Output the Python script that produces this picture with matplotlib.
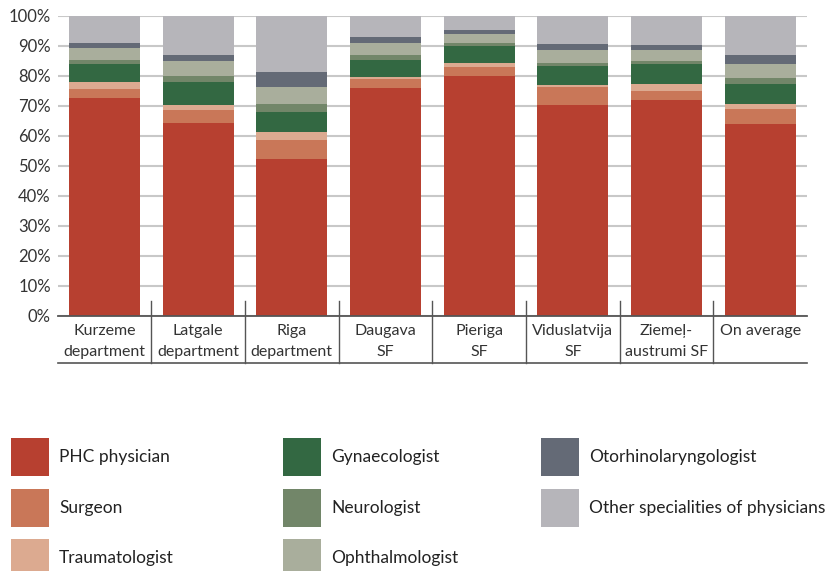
import matplotlib.pyplot as plt
from matplotlib.patches import Rectangle
from matplotlib.transforms import blended_transform_factory
import numpy as np

plt.rcParams["font.family"] = ["Lato", "DejaVu Sans"]

regions = ["Kurzeme\ndepartment", "Latgale\ndepartment", "Riga\ndepartment",
           "Daugava\nSF", "Pieriga\nSF", "Viduslatvija\nSF",
           "Ziemeļ-\naustrumi SF", "On average"]

# shares of visits, % (bottom to top)
phc = [72.7, 64.3, 52.3, 76.0, 80.0, 70.3, 72.0, 64.0]
surgeon = [3.0, 4.4, 6.4, 3.0, 3.0, 6.0, 3.0, 5.0]
traumatologist = [2.3, 1.6, 2.6, 0.7, 1.3, 0.7, 2.3, 1.7]
gynaecologist = [6.0, 7.7, 6.7, 5.6, 5.7, 6.3, 6.7, 6.6]
neurologist = [1.3, 2.0, 2.7, 1.7, 1.0, 1.0, 1.0, 2.0]
ophthalmologist = [4.0, 5.0, 5.6, 4.0, 3.0, 4.4, 3.7, 4.7]
otorhinolaryngologist = [1.7, 2.0, 5.0, 2.0, 1.3, 2.0, 1.6, 3.0]
other = [9.0, 13.0, 18.7, 7.0, 4.7, 9.3, 9.7, 13.0]

series = [
    ("PHC physician", phc, "#b74030"),
    ("Surgeon", surgeon, "#c97758"),
    ("Traumatologist", traumatologist, "#dcaa90"),
    ("Gynaecologist", gynaecologist, "#336842"),
    ("Neurologist", neurologist, "#728669"),
    ("Ophthalmologist", ophthalmologist, "#a9ae9c"),
    ("Otorhinolaryngologist", otorhinolaryngologist, "#646a76"),
    ("Other specialities of physicians", other, "#b6b5ba"),
]

fig = plt.figure(figsize=(8.27, 5.71), dpi=100)
ax = fig.add_axes([0.0698, 0.4466, 0.906, 0.5254])

x = np.arange(len(regions))
bottom = np.zeros(len(regions))
for name, vals, col in series:
    ax.bar(x, vals, width=0.76, bottom=bottom, color=col, linewidth=0, zorder=3)
    bottom += np.array(vals)

ax.set_xlim(-0.5, len(regions) - 0.5)
ax.set_ylim(0, 100)
ax.set_yticks(np.arange(0, 101, 10))
ax.set_yticklabels([f"{v}%" for v in range(0, 101, 10)])
ax.yaxis.grid(True, color="#c8c8c8", linewidth=1.5, zorder=0)
ax.axhline(0, color="#555555", linewidth=1.3, zorder=4, clip_on=False)
for s in ax.spines.values():
    s.set_visible(False)
ax.tick_params(axis="y", length=0, pad=5, labelsize=12, labelcolor="#333333")
ax.set_xticks(x)
ax.set_xticklabels(regions, linespacing=1.65)
ax.tick_params(axis="x", length=0, pad=6, labelsize=11.5, labelcolor="#333333")
for lbl in ax.get_xticklabels():
    lbl.set_verticalalignment("top")

# category separators and the bottom rule of the label band
trans = blended_transform_factory(ax.transData, ax.transAxes)
for b in x[:-1] + 0.5:
    ax.plot([b, b], [0.05, -0.157], transform=trans, color="#555555",
            linewidth=1.0, clip_on=False)
ax.plot([0, 1], [-0.157, -0.157], transform=ax.transAxes, color="#555555",
        linewidth=1.2, clip_on=False)

# legend, three columns
W, H = 827, 571
col_x = [11, 283, 541]
row_top = [438, 489, 539]
for i, (name, vals, col) in enumerate(series):
    c, r = divmod(i, 3)
    x0, y0 = col_x[c], row_top[r]
    fig.add_artist(Rectangle((x0 / W, 1 - (y0 + 38) / H), 38 / W, 38 / H,
                             transform=fig.transFigure, color=col, linewidth=0))
    fig.text((x0 + 48) / W, 1 - (y0 + 19) / H, name, fontsize=12.5,
             color="#222222", va="center", ha="left")

fig.savefig("out.png", dpi=100)
